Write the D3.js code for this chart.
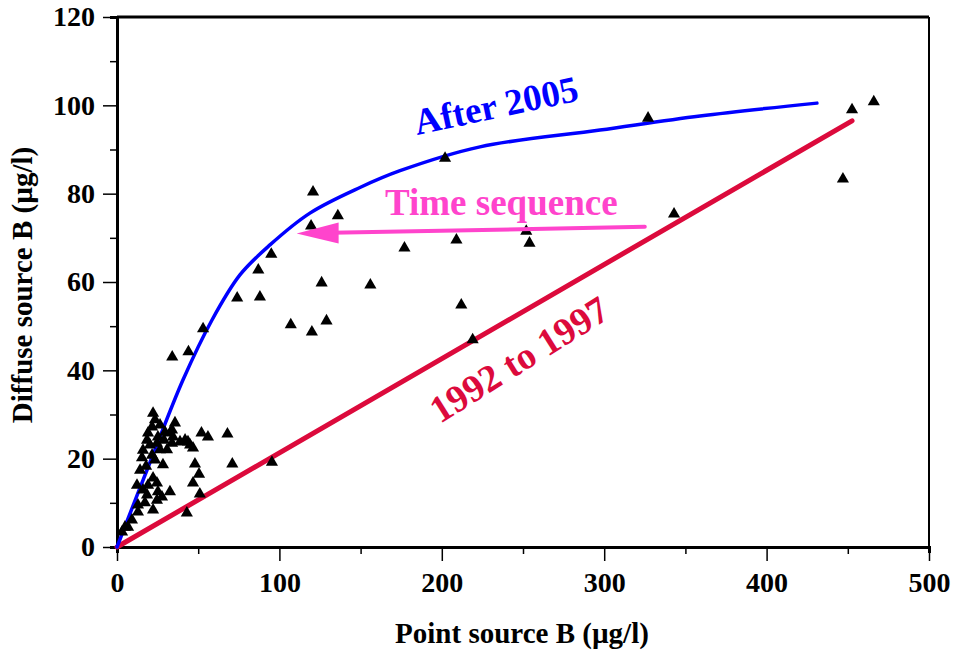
<!DOCTYPE html>
<html>
<head>
<meta charset="utf-8">
<script src="https://cdn.jsdelivr.net/npm/d3@7"></script>
<style>
  body { margin: 0; background: #fff; }
</style>
</head>
<body>
<div id="chart"></div>
<script>
// measured points: point source B (x) vs diffuse source B (y), ug/l
var pointX = [466, 452.6, 447, 343, 327, 254, 252, 209, 212, 219, 202, 177, 156, 136, 120.7, 119.5,
    126, 129, 120, 107, 95, 87, 88, 74, 53, 34, 44, 95.4, 71, 68, 51, 43, 52, 56,
    22.2, 23.4, 21.6, 19.1, 18.5, 16.0, 15.4, 26.5, 29.6, 32.6, 35.7, 33.9, 34.5, 33.9, 38.8, 41.9,
    43.7, 45.0, 46.8, 24.6, 26.5, 30.8, 21.6, 23.4, 14.2, 22.2, 12.3, 16.0, 24.6, 18.5, 24.6, 25.2,
    27.7, 22.2, 17.2, 12.9, 12.9, 9.2, 6.8, 4.9, 3.1, 32.6, 19.1, 48.0, 50.5, 46.8, 28.3, 17.9,
    20.3, 28.9, 25.2];
var pointY = [100.8, 99, 83.3, 75.4, 97.1, 68.8, 71.5, 69.5, 54.8, 46.9, 88, 67.7, 59.3, 75, 80.4, 72.7,
    59.8, 51.2, 48.7, 50.3, 66.3, 62.7, 56.6, 56.4, 49.4, 43, 44.2, 19.2, 18.8, 25.6, 12, 7.7, 25.8, 24.9,
    30.3, 28.8, 27.2, 25.8, 24.2, 21.9, 20.2, 27.6, 26.0, 25.8, 28.1, 26.5, 24.9, 23.5, 23.8, 24.2,
    23.8, 23.1, 22.4, 23.5, 22.0, 22.0, 20.8, 19.7, 17.4, 15.6, 14.0, 12.9, 14.5, 11.8, 10.6, 12.5,
    11.3, 8.4, 10.0, 9.5, 7.9, 6.1, 4.5, 4.5, 3.4, 12.5, 14.0, 18.8, 16.5, 14.5, 18.6, 18.3,
    23.1, 24.2, 24.9];

// "After 2005" curve
var after2005X = [0, 20.9, 40.6, 58.5, 75.7, 94.2, 118.8, 149.6, 174.3, 223.5, 297.4, 359, 431];
var after2005Y = [0, 19.7, 37.8, 51.4, 61.6, 68.4, 75.6, 81.4, 85.2, 90.6, 94.4, 97.6, 100.5];

// "1992 to 1997" line
var earlyX = [0, 452.6];
var earlyY = [0, 96.5];

// time sequence arrow (from, to)
var arrowX = [325, 110.6];
var arrowY = [72.5, 71.0];

var xTicks = [0, 100, 200, 300, 400, 500];
var yTicks = [0, 20, 40, 60, 80, 100, 120];

var FONT = "'Liberation Serif', 'Times New Roman', Times, serif";

var width = 957, height = 657;
var x = d3.scaleLinear().domain([0, 500]).range([117, 929]);
var y = d3.scaleLinear().domain([0, 120]).range([547, 17]);

var svg = d3.select("#chart").append("svg")
    .attr("width", width)
    .attr("height", height);

function serif(sel, size) {
    return sel.style("font-family", FONT).style("font-weight", "bold").style("font-size", size + "px");
}

// frame top / right
svg.append("line").attr("x1", x(0)).attr("x2", x(500)).attr("y1", y(120)).attr("y2", y(120))
    .attr("stroke", "#000").attr("stroke-width", 3);
svg.append("line").attr("x1", x(500)).attr("x2", x(500)).attr("y1", y(120)).attr("y2", y(0))
    .attr("stroke", "#000").attr("stroke-width", 2);

// axes
var xAxis = svg.append("g").attr("transform", "translate(0," + y(0) + ")")
    .call(d3.axisBottom(x).tickValues(d3.range(0, 501, 50)).tickSize(6).tickFormat(""));
xAxis.selectAll(".tick line").attr("stroke-width", 1.5)
    .attr("y2", function(d) { return d % 100 === 0 ? 14 : 7; });
xAxis.select(".domain").attr("stroke-width", 3);
var xLab = svg.append("g").attr("transform", "translate(0," + y(0) + ")")
    .call(d3.axisBottom(x).tickValues(xTicks).tickSize(0).tickPadding(25));
xLab.select(".domain").remove();
serif(xLab.selectAll("text"), 28).attr("fill", "#000");

var yAxis = svg.append("g").attr("transform", "translate(" + x(0) + ",0)")
    .call(d3.axisLeft(y).tickValues(d3.range(0, 121, 10)).tickSize(7).tickFormat(""));
yAxis.selectAll(".tick line").attr("stroke-width", 1.5)
    .attr("x2", function(d) { return d % 20 === 0 ? -14 : -7; });
yAxis.select(".domain").attr("stroke-width", 3);
var yLab = svg.append("g").attr("transform", "translate(" + x(0) + ",0)")
    .call(d3.axisLeft(y).tickValues(yTicks).tickSize(0).tickPadding(22));
yLab.select(".domain").remove();
serif(yLab.selectAll("text"), 28).attr("fill", "#000");

// axis titles
serif(svg.append("text"), 29).attr("x", 522).attr("y", 643).attr("text-anchor", "middle")
    .text("Point source B (µg/l)");
serif(svg.append("text"), 29).attr("transform", "translate(32,285) rotate(-90)").attr("text-anchor", "middle")
    .text("Diffuse source B (µg/l)");

// red straight line
svg.append("path")
    .datum(d3.zip(earlyX, earlyY))
    .attr("d", d3.line().x(function(d) { return x(d[0]); }).y(function(d) { return y(d[1]); }))
    .attr("fill", "none").attr("stroke", "#dc0a3c").attr("stroke-width", 5)
    .attr("stroke-linecap", "round");

// blue curve
svg.append("path")
    .datum(d3.zip(after2005X, after2005Y))
    .attr("d", d3.line().curve(d3.curveCatmullRom.alpha(0.5))
        .x(function(d) { return x(d[0]); }).y(function(d) { return y(d[1]); }))
    .attr("fill", "none").attr("stroke", "#0000ff").attr("stroke-width", 3.5)
    .attr("stroke-linecap", "round");

// triangles
svg.append("g").selectAll("path")
    .data(d3.zip(pointX, pointY))
    .enter().append("path")
    .attr("transform", function(d) { return "translate(" + x(d[0]) + "," + y(d[1]) + ")"; })
    .attr("d", d3.symbol().type(d3.symbolTriangle).size(64))
    .attr("fill", "#000");

// arrow
var ax0 = x(arrowX[0]), ay0 = y(arrowY[0]), ax1 = x(arrowX[1]), ay1 = y(arrowY[1]);
svg.append("line").attr("x1", ax0).attr("y1", ay0).attr("x2", ax1 + 35).attr("y2", ay1 - 0.6)
    .attr("stroke", "#ff44cc").attr("stroke-width", 4).attr("stroke-linecap", "round");
svg.append("path")
    .attr("d", "M" + ax1 + "," + ay1 + "L" + (ax1 + 42) + "," + (ay1 - 11) + "L" + (ax1 + 42) + "," + (ay1 + 10) + "Z")
    .attr("fill", "#ff44cc");

// annotations
serif(svg.append("text"), 37).attr("x", 385).attr("y", 215)
    .attr("fill", "#ff44cc").text("Time sequence");
serif(svg.append("text"), 37).attr("transform", "translate(417,135) rotate(-12)")
    .attr("fill", "#0000ff").text("After 2005");
serif(svg.append("text"), 38).attr("transform", "translate(440,424) rotate(-32)")
    .attr("fill", "#dc0a3c").text("1992 to 1997");
</script>
</body>
</html>
